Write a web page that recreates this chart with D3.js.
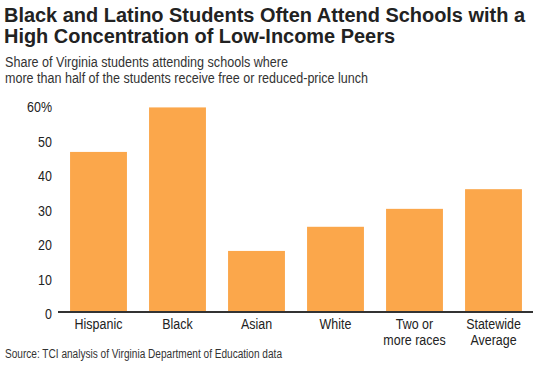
<!DOCTYPE html>
<html>
<head>
<meta charset="utf-8">
<script src="https://cdn.jsdelivr.net/npm/d3@7"></script>
<style>
  body { margin: 0; background: #fff; }
  text { font-family: "Liberation Sans", Arial, sans-serif; fill: #222; }
</style>
</head>
<body>
<div id="chart"></div>
<script>
// data
var groups = ["Hispanic", "Black", "Asian", "White", "Two or more races", "Statewide Average"];
var groupLines = [["Hispanic"], ["Black"], ["Asian"], ["White"], ["Two or", "more races"], ["Statewide", "Average"]];
var shares = [46.4, 59.3, 17.7, 24.7, 29.9, 35.6];
var yTicks = [0, 10, 20, 30, 40, 50, 60];

var W = 540, H = 371;
var margin = {top: 105, right: 7, bottom: 59, left: 59},
    width = W - margin.left - margin.right,
    height = H - margin.top - margin.bottom;
var squeeze = 0.86; // the reference's labels are set in a narrow face

var svg = d3.select("#chart")
  .append("svg")
  .attr("width", W)
  .attr("height", H);

// titles
svg.append("text").attr("x", 4).attr("y", 22)
  .attr("textLength", 521).attr("lengthAdjust", "spacingAndGlyphs")
  .style("font-size", "20px").style("font-weight", "bold")
  .text("Black and Latino Students Often Attend Schools with a");
svg.append("text").attr("x", 4).attr("y", 43)
  .attr("textLength", 391).attr("lengthAdjust", "spacingAndGlyphs")
  .style("font-size", "20px").style("font-weight", "bold")
  .text("High Concentration of Low-Income Peers");
svg.append("text").attr("x", 5).attr("y", 67)
  .attr("textLength", 283).attr("lengthAdjust", "spacingAndGlyphs")
  .style("font-size", "14px").style("fill", "#333")
  .text("Share of Virginia students attending schools where");
svg.append("text").attr("x", 5).attr("y", 83)
  .attr("textLength", 363).attr("lengthAdjust", "spacingAndGlyphs")
  .style("font-size", "14px").style("fill", "#333")
  .text("more than half of the students receive free or reduced-price lunch");
svg.append("text").attr("x", 5).attr("y", 358)
  .attr("textLength", 277).attr("lengthAdjust", "spacingAndGlyphs")
  .style("font-size", "12.5px").style("fill", "#333")
  .text("Source: TCI analysis of Virginia Department of Education data");

var g = svg.append("g")
  .attr("transform", "translate(" + margin.left + "," + margin.top + ")");

var x = d3.scaleBand()
  .domain(groups)
  .range([0, width])
  .paddingInner(0.28)
  .paddingOuter(0.14);

var y = d3.scaleLinear()
  .domain([0, 60])
  .range([height, 0]);

// y tick labels
g.selectAll(".ytick")
  .data(yTicks)
  .enter()
  .append("g")
    .attr("transform", function(d) { return "translate(-7," + (y(d) + 2) + ") scale(" + squeeze + ",1)"; })
  .append("text")
    .attr("dy", "0.35em")
    .style("text-anchor", "end")
    .style("font-size", "14.5px")
    .text(function(d) { return d === 60 ? "60%" : d; });

// bars
g.selectAll(".bar")
  .data(shares)
  .enter()
  .append("rect")
    .attr("x", function(d, i) { return x(groups[i]); })
    .attr("y", function(d) { return y(d); })
    .attr("width", x.bandwidth())
    .attr("height", function(d) { return height - y(d); })
    .style("fill", "#FBA74B");

// baseline
g.append("line")
  .attr("x1", -1).attr("x2", width)
  .attr("y1", height).attr("y2", height)
  .style("stroke", "#333")
  .style("stroke-width", 2);

// category labels
var labels = g.selectAll(".xlab")
  .data(groups)
  .enter()
  .append("g")
    .attr("transform", function(d) {
      return "translate(" + (x(d) + x.bandwidth() / 2) + "," + (height + 17) + ") scale(" + squeeze + ",1)";
    })
  .append("text")
    .style("text-anchor", "middle")
    .style("font-size", "14.5px");

labels.each(function(d, i) {
  var t = d3.select(this);
  groupLines[i].forEach(function(line, k) {
    t.append("tspan")
      .attr("x", 0)
      .attr("dy", k === 0 ? 0 : 16)
      .text(line);
  });
});
</script>
</body>
</html>
